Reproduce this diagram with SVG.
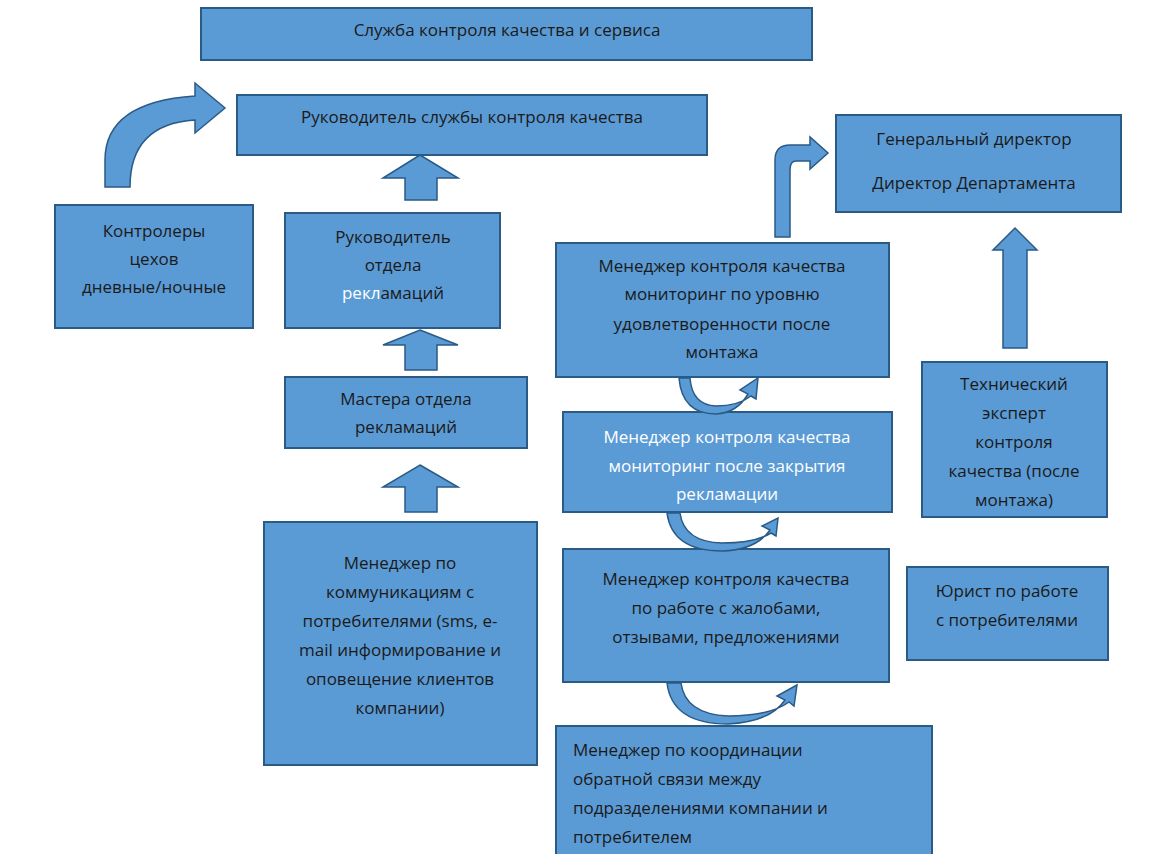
<svg xmlns="http://www.w3.org/2000/svg" width="1171" height="854" viewBox="0 0 1171 854">
<style>
.b{fill:#5b9bd5;stroke:#2a5a86;stroke-width:2}
.a{fill:#5b9bd5;stroke:#2a5a86;stroke-width:1.5}
text{font-family:"Open Sans","Noto Sans","Liberation Sans",sans-serif;font-size:17px;fill:#1a1a1a;text-anchor:middle}
.w{fill:#ffffff}
</style>
<rect width="1171" height="854" fill="#fff"/>
<g id="n1"><rect class="b" x="201" y="8" width="611" height="52"/><text x="507" y="36">Служба контроля качества и сервиса</text></g>
<g id="n2"><rect class="b" x="237" y="95" width="470" height="60"/><text x="472" y="123">Руководитель службы контроля качества</text></g>
<g id="n3"><rect class="b" x="55" y="205" width="198" height="123"/><text x="154" y="237">Контролеры</text><text x="154" y="265">цехов</text><text x="154" y="293">дневные/ночные</text></g>
<g id="n4"><rect class="b" x="285" y="213" width="215" height="115"/><text x="393" y="243">Руководитель</text><text x="393" y="271">отдела</text><text x="393" y="299"><tspan class="w">рекл</tspan>амаций</text></g>
<g id="n5"><rect class="b" x="285" y="377" width="242" height="71"/><text x="406" y="405">Мастера отдела</text><text x="406" y="433">рекламаций</text></g>
<g id="n6"><rect class="b" x="264" y="522" width="273" height="243"/><text x="400" y="569">Менеджер по</text><text x="400" y="598">коммуникациям с</text><text x="400" y="627">потребителями (sms, e-</text><text x="400" y="656">mail информирование и</text><text x="400" y="685">оповещение клиентов</text><text x="400" y="714">компании)</text></g>
<g id="n7"><rect class="b" x="556" y="243" width="333" height="134"/><text x="722" y="272">Менеджер контроля качества</text><text x="722" y="300">мониторинг по уровню</text><text x="722" y="330">удовлетворенности после</text><text x="722" y="358">монтажа</text></g>
<g id="n8"><rect class="b" x="563" y="412" width="329" height="100"/><text class="w" x="727" y="443">Менеджер контроля качества</text><text class="w" x="727" y="472">мониторинг после закрытия</text><text class="w" x="727" y="500">рекламации</text></g>
<g id="n9"><rect class="b" x="563" y="549" width="326" height="133"/><text x="726" y="585">Менеджер контроля качества</text><text x="726" y="614">по работе с жалобами,</text><text x="726" y="643">отзывами, предложениями</text></g>
<g id="n10"><rect class="b" x="556" y="726" width="376" height="140"/><text x="573" y="756" style="text-anchor:start">Менеджер по координации</text><text x="573" y="785" style="text-anchor:start">обратной связи между</text><text x="573" y="814" style="text-anchor:start">подразделениями компании и</text><text x="573" y="843" style="text-anchor:start">потребителем</text></g>
<g id="n11"><rect class="b" x="836" y="115" width="285" height="97"/><text x="974" y="145">Генеральный директор</text><text x="974" y="189">Директор Департамента</text></g>
<g id="n12"><rect class="b" x="922" y="362" width="185" height="155"/><text x="1014" y="390">Технический</text><text x="1014" y="419">эксперт</text><text x="1014" y="448">контроля</text><text x="1014" y="477">качества (после</text><text x="1014" y="506">монтажа)</text></g>
<g id="n13"><rect class="b" x="907" y="567" width="201" height="93"/><text x="1007" y="597">Юрист по работе</text><text x="1007" y="626">с потребителями</text></g>
<g id="connectors">
<path class="a" d="M420,155 L458,178 L437,178 L437,200 L405,200 L405,178 L383,178 Z"/>
<path class="a" d="M420,330 L458,345 L437,345 L437,370 L405,370 L405,345 L383,345 Z"/>
<path class="a" d="M420,465 L458,487 L437,487 L437,512 L405,512 L405,487 L383,487 Z"/>
<path class="a" d="M1015,228 L1037,250 L1027,250 L1027,348 L1003,348 L1003,250 L993,250 Z"/>
<path class="a" d="M105,187 L105,160 Q105,102 195,96 L195,83 L225,108 L195,133 L195,120 Q130,124 130,187 Z"/>
<path class="a" d="M775,237 L775,160 Q775,145 790,145 L810,145 L810,137 L828,153 L810,169 L810,161 L796,161 Q790,161 790,170 L790,237 Z"/>
<path class="a" d="M679,378 Q682,414 716,414 Q737,413 748,394 L740,390 L758,378 L756,399 L751,396 Q738,406 716,406 Q692,405 690,378 Z"/>
<path class="a" d="M667,513 Q672,551 722,551 Q756,550 770,530 L762,526 L778,518 L776,536 L771,533 Q755,543 722,543 Q684,542 680,513 Z"/>
<path class="a" d="M667,683 Q672,724 728,724 Q770,722 785,700 L777,696 L797,685 L794,706 L789,702 Q770,716 728,716 Q685,714 681,683 Z"/>
</g>
</svg>
